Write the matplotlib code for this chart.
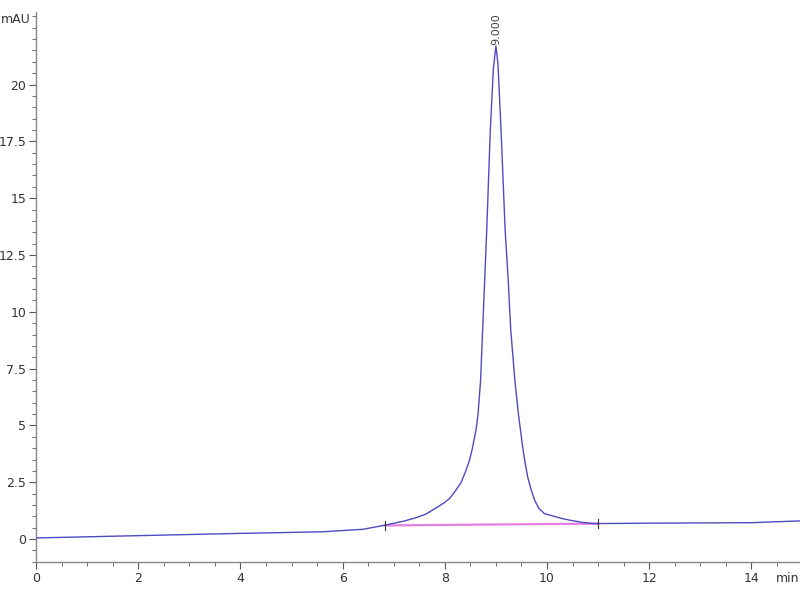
import matplotlib
matplotlib.use('Agg')
import matplotlib.pyplot as plt
from matplotlib.ticker import MultipleLocator, FixedLocator

plt.rcParams['font.family'] = ['Liberation Sans Narrow', 'DejaVu Sans']

# trace (min, mAU)
time_min = [0, 2, 4, 5.6, 6.4, 6.8, 7.2, 7.45, 7.63, 7.85, 7.99, 8.1, 8.22,
            8.32, 8.41, 8.48, 8.53, 8.61, 8.65, 8.70, 8.74, 8.78, 8.82, 8.89,
            8.95, 9.0, 9.04, 9.10, 9.18, 9.24, 9.29, 9.37, 9.44, 9.48, 9.52,
            9.56, 9.62, 9.69, 9.76, 9.84, 9.95, 10.14, 10.3, 10.47, 10.7,
            10.92, 12, 14, 14.95]
signal_mau = [0.05, 0.15, 0.25, 0.32, 0.43, 0.6, 0.79, 0.95, 1.1, 1.4, 1.6,
              1.8, 2.16, 2.5, 3.0, 3.45, 3.9, 4.8, 5.5, 7.0, 9.2, 11.4, 13.6,
              18.0, 20.7, 21.7, 20.9, 18.0, 13.6, 11.4, 9.2, 7.0, 5.5, 4.8,
              4.1, 3.5, 2.75, 2.16, 1.7, 1.35, 1.12, 1.0, 0.9, 0.82, 0.73,
              0.68, 0.7, 0.72, 0.8]

# integration baseline
base_t = [6.82, 11.0]
base_y = [0.6, 0.68]

peak_rt = 9.0
peak_h = 21.7
peak_label = '9.000'

ytick_vals = [0, 2.5, 5, 7.5, 10, 12.5, 15, 17.5, 20]
ytick_lbls = ['0', '2.5', '5', '7.5', '10', '12.5', '15', '17.5', '20']

fig = plt.figure(figsize=(8, 6), dpi=100)
ax = fig.add_axes([0.045, 0.0633, 0.955, 0.917])

ax.plot(base_t, base_y, color='#e37ee3', lw=1.6, zorder=2)
ax.plot(time_min, signal_mau, color='#4c4cc0', lw=1.0, zorder=3)
for bt, by in zip(base_t, base_y):
    ax.plot([bt, bt], [by - 0.2, by + 0.2], color='#333333', lw=0.8, zorder=4)

ax.text(peak_rt, peak_h + 0.05, peak_label, rotation=90, ha='center',
        va='bottom', fontsize=8, color='#444444', clip_on=False)

ax.set_xlim(0, 14.95)
ax.set_ylim(-1.01, 23.2)
ax.xaxis.set_major_locator(MultipleLocator(2))
ax.xaxis.set_minor_locator(MultipleLocator(0.5))
ax.yaxis.set_major_locator(FixedLocator(ytick_vals))
ax.set_yticklabels(ytick_lbls)
ax.yaxis.set_minor_locator(MultipleLocator(0.5))

for s in ['top', 'right']:
    ax.spines[s].set_visible(False)
for s in ['left', 'bottom']:
    ax.spines[s].set_color('#888888')
    ax.spines[s].set_linewidth(1.0)

ax.tick_params(which='major', length=5, color='#555555', labelsize=9,
               labelcolor='#333333', pad=2)
ax.tick_params(which='minor', length=3, color='#555555')

ax.text(-0.1, 22.85, 'mAU', ha='right', va='center', fontsize=9,
        color='#333333', clip_on=False)
ax.text(0.999, -0.03, 'min', transform=ax.transAxes, ha='right', va='center',
        fontsize=9, color='#333333', clip_on=False)

fig.savefig('out.png', dpi=100)
